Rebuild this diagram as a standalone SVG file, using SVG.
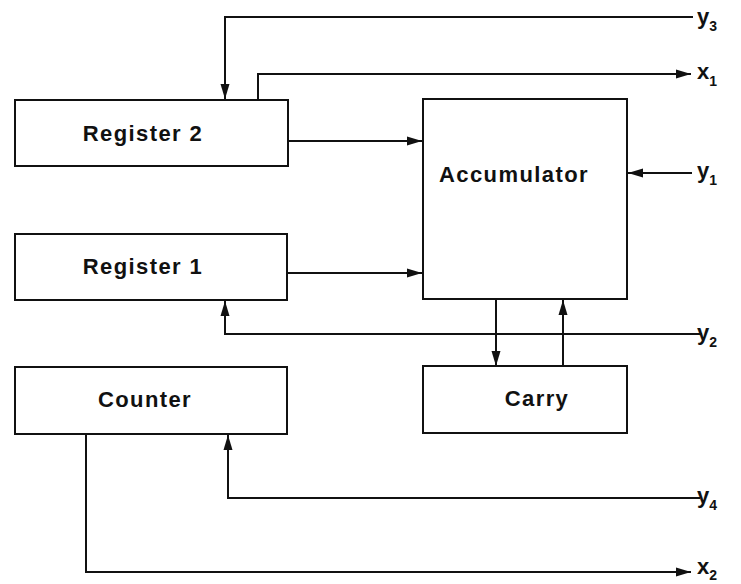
<svg xmlns="http://www.w3.org/2000/svg" width="741" height="584" viewBox="0 0 741 584">
<style>
.box{fill:#fff;stroke:#111;stroke-width:2}
.lbl{font-family:"Liberation Sans",Arial,sans-serif;font-weight:bold;font-size:22px;fill:#111;text-anchor:middle;letter-spacing:1.4px}
.io{font-family:"Liberation Sans",Arial,sans-serif;font-weight:bold;font-size:22px;fill:#111}
.sub{font-size:14px}
.ln{fill:none;stroke:#111;stroke-width:2}
</style>
<defs>
<marker id="ah" markerWidth="16" markerHeight="10" refX="15" refY="5" orient="auto" markerUnits="userSpaceOnUse">
<path d="M0,0.5 L15,5 L0,9.5 Z" fill="#111"/>
</marker>
</defs>
<g id="connectors">
<path class="ln" d="M693,17 H225 V99" marker-end="url(#ah)"/>
<path class="ln" d="M258,100 V74 H691" marker-end="url(#ah)"/>
<path class="ln" d="M288,141 H422" marker-end="url(#ah)"/>
<path class="ln" d="M288,273 H422" marker-end="url(#ah)"/>
<path class="ln" d="M692,173 H628" marker-end="url(#ah)"/>
<path class="ln" d="M702,334 H225 V301" marker-end="url(#ah)"/>
<path class="ln" d="M496,299 V366" marker-end="url(#ah)"/>
<path class="ln" d="M563,366 V300" marker-end="url(#ah)"/>
<path class="ln" d="M700,498 H228 V435" marker-end="url(#ah)"/>
<path class="ln" d="M86,434 V572 H691" marker-end="url(#ah)"/>
</g>
<g id="register2"><rect class="box" x="15" y="100" width="273" height="66"/><text class="lbl" x="143" y="141">Register 2</text></g>
<g id="register1"><rect class="box" x="15" y="234" width="272" height="66"/><text class="lbl" x="143" y="274">Register 1</text></g>
<g id="counter"><rect class="box" x="15" y="367" width="272" height="67"/><text class="lbl" x="145" y="407">Counter</text></g>
<g id="accumulator"><rect class="box" x="423" y="99" width="204" height="200"/><text class="lbl" x="514" y="182">Accumulator</text></g>
<g id="carry"><rect class="box" x="423" y="366" width="204" height="67"/><text class="lbl" x="537" y="406">Carry</text></g>
<g id="labels">
<text class="io" x="697" y="24">y<tspan class="sub" dy="7">3</tspan></text>
<text class="io" x="697" y="79">x<tspan class="sub" dy="7">1</tspan></text>
<text class="io" x="697" y="178">y<tspan class="sub" dy="7">1</tspan></text>
<text class="io" x="697" y="340">y<tspan class="sub" dy="7">2</tspan></text>
<text class="io" x="697" y="503">y<tspan class="sub" dy="7">4</tspan></text>
<text class="io" x="697" y="574">x<tspan class="sub" dy="6">2</tspan></text>
</g>
</svg>
